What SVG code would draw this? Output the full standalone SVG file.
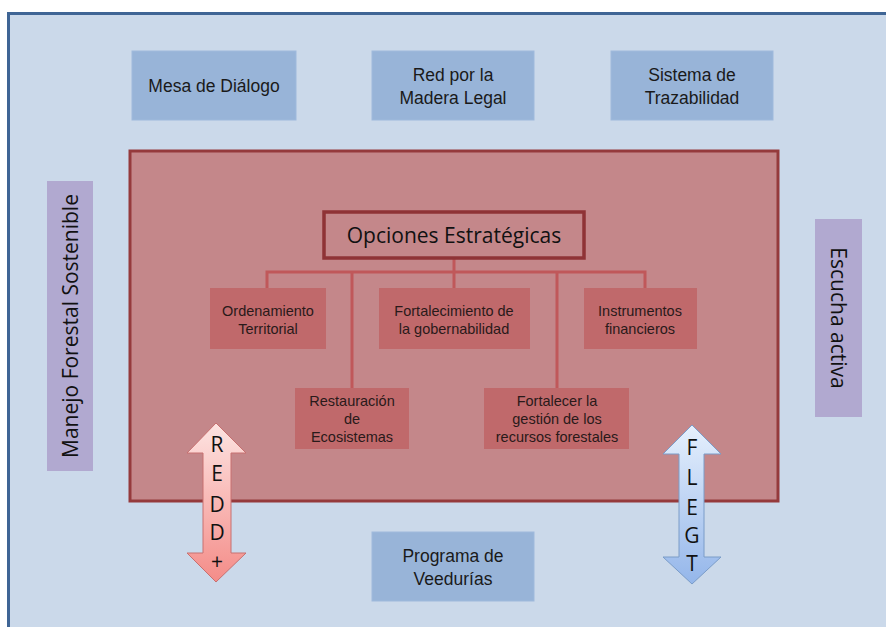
<svg xmlns="http://www.w3.org/2000/svg" width="886" height="627" viewBox="0 0 886 627">
<defs>
<linearGradient id="gRed" x1="0" y1="0" x2="0" y2="1"><stop offset="0" stop-color="#fde4e2"/><stop offset="1" stop-color="#f48c88"/></linearGradient>
<linearGradient id="gBlue" x1="0" y1="0" x2="0" y2="1"><stop offset="0" stop-color="#e6f0fd"/><stop offset="1" stop-color="#94b6ea"/></linearGradient>
<style>
.blue{fill:#98b4d8;stroke:#9fbadc;stroke-width:1}
.lav{fill:#b1a9d0}
.sub{fill:#c0696b}
.t15{font-family:"Liberation Sans",Arial,sans-serif;font-size:17.5px;fill:#1a1a1a;text-anchor:middle}
.t13{font-family:"Liberation Sans",Arial,sans-serif;font-size:14.5px;fill:#2a1a1a;text-anchor:middle}
.cal{font-family:"Open Sans","Noto Sans",sans-serif;fill:#111;text-anchor:middle}
.conn{stroke:#c0585a;stroke-width:3;fill:none}
</style>
</defs>
<rect x="0" y="0" width="886" height="627" fill="#ffffff"/>
<rect x="8.5" y="13.5" width="890" height="630" fill="#cbd9ea" stroke="#3f6595" stroke-width="3"/>

<g id="mesa"><rect class="blue" x="132" y="51" width="164" height="69"/><text class="t15" x="214" y="92">Mesa de Diálogo</text></g>
<g id="red"><rect class="blue" x="372" y="51" width="162" height="69"/><text class="t15" x="453" y="81">Red por la</text><text class="t15" x="453" y="104">Madera Legal</text></g>
<g id="sistema"><rect class="blue" x="611" y="51" width="162" height="69"/><text class="t15" x="692" y="81">Sistema de</text><text class="t15" x="692" y="104">Trazabilidad</text></g>
<g id="programa"><rect class="blue" x="372" y="532" width="162" height="69"/><text class="t15" x="453" y="562">Programa de</text><text class="t15" x="453" y="585">Veedurías</text></g>

<g id="manejo"><rect class="lav" x="47" y="181" width="46" height="290"/><text class="cal" font-size="21" transform="translate(78,326) rotate(-90)">Manejo Forestal Sostenible</text></g>
<g id="escucha"><rect class="lav" x="815" y="219" width="47" height="198"/><text class="cal" font-size="21" transform="translate(831,318) rotate(90)">Escucha activa</text></g>

<g id="main"><rect x="130" y="151" width="648" height="350" fill="#c4878a" stroke="#953a3c" stroke-width="3"/></g>

<g id="connectors">
<path class="conn" d="M454 259V272M267 288V272H645V288M454 272V288M352 272V388M557 272V388"/>
</g>

<g id="opciones"><rect x="324" y="212" width="260" height="46" fill="#c4878a" stroke="#8f3336" stroke-width="3.5"/><text class="cal" font-size="21" x="454" y="243">Opciones Estratégicas</text></g>

<g id="ordenamiento"><rect class="sub" x="210" y="288" width="116" height="61"/><text class="t13" x="268" y="316">Ordenamiento</text><text class="t13" x="268" y="334">Territorial</text></g>
<g id="fortalecimiento"><rect class="sub" x="379" y="288" width="151" height="61"/><text class="t13" x="454" y="316">Fortalecimiento de</text><text class="t13" x="454" y="334">la gobernabilidad</text></g>
<g id="instrumentos"><rect class="sub" x="584" y="288" width="113" height="61"/><text class="t13" x="640" y="316">Instrumentos</text><text class="t13" x="640" y="334">financieros</text></g>
<g id="restauracion"><rect class="sub" x="295" y="388" width="114" height="61"/><text class="t13" x="352" y="406">Restauración</text><text class="t13" x="352" y="424">de</text><text class="t13" x="352" y="442">Ecosistemas</text></g>
<g id="fortalecer"><rect class="sub" x="484" y="388" width="145" height="61"/><text class="t13" x="557" y="406">Fortalecer la</text><text class="t13" x="557" y="424">gestión de los</text><text class="t13" x="557" y="442">recursos forestales</text></g>

<g id="redd">
<path d="M216 423L246 453H231V553H246L216 582L187 553H203V453H187Z" fill="url(#gRed)" stroke="#c77070" stroke-width="1"/>
<g class="cal" font-size="21"><text x="217" y="452">R</text><text x="217" y="481">E</text><text x="217" y="512">D</text><text x="217" y="540">D</text><text x="217" y="569">+</text></g>
</g>
<g id="flegt">
<path d="M692 425L721 454H704V557H721L692 584L663 557H679V454H663Z" fill="url(#gBlue)" stroke="#7a9cc8" stroke-width="1"/>
<g class="cal" font-size="21"><text x="692" y="455">F</text><text x="692" y="485">L</text><text x="692" y="515">E</text><text x="692" y="543">G</text><text x="692" y="571">T</text></g>
</g>
</svg>
